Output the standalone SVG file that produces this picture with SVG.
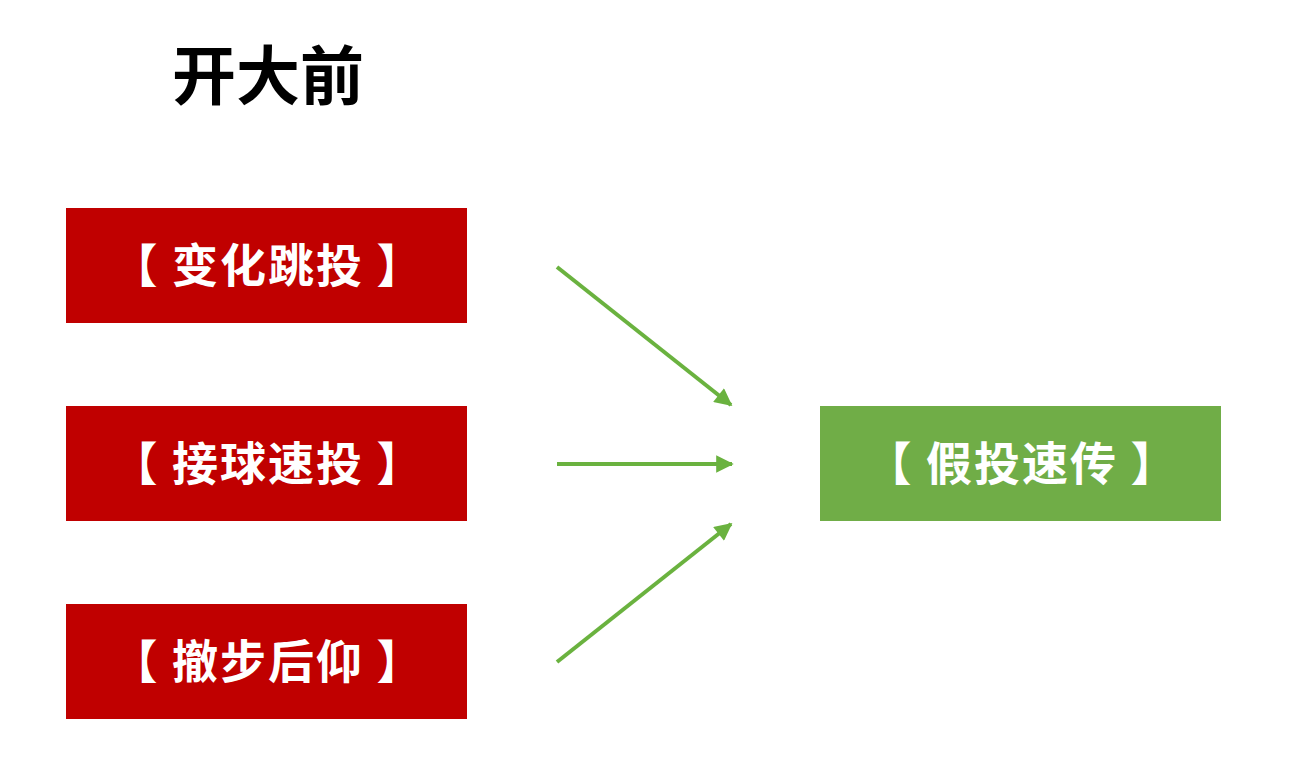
<svg xmlns="http://www.w3.org/2000/svg" width="1290" height="782" viewBox="0 0 1290 782">
<style>
.t{font-family:"Noto Sans CJK SC","Noto Sans",sans-serif;font-weight:bold;text-anchor:middle}
.lbl{font-size:46px;fill:#ffffff;letter-spacing:2px}
.red{fill:#C00000}
.grn{fill:#70AD47}
.conn{stroke:#6AB23F;stroke-width:4;fill:none;marker-end:url(#ah)}
</style>
<defs>
<marker id="ah" viewBox="0 0 10 10" refX="9" refY="5" markerWidth="5" markerHeight="4.4" orient="auto" markerUnits="strokeWidth">
<path d="M0,0 L10,5 L0,10 Z" fill="#6AB23F"/>
</marker>
</defs>
<rect width="1290" height="782" fill="#ffffff"/>
<g id="title"><text class="t" x="268" y="99" font-size="64" fill="#000">开大前</text></g>
<g id="n1"><rect class="red" x="66" y="208" width="401" height="115"/><text class="t lbl" x="268" y="282">【 变化跳投 】</text></g>
<g id="n2"><rect class="red" x="66" y="406" width="401" height="115"/><text class="t lbl" x="268" y="480">【 接球速投 】</text></g>
<g id="n3"><rect class="red" x="66" y="604" width="401" height="115"/><text class="t lbl" x="268" y="678">【 撤步后仰 】</text></g>
<g id="n4"><rect class="grn" x="820" y="406" width="401" height="115"/><text class="t lbl" x="1022" y="480">【 假投速传 】</text></g>
<g id="connectors">
<line class="conn" x1="557" y1="267" x2="731" y2="405"/>
<line class="conn" x1="557" y1="464" x2="732" y2="464"/>
<line class="conn" x1="557" y1="662" x2="731" y2="524"/>
</g>
</svg>
